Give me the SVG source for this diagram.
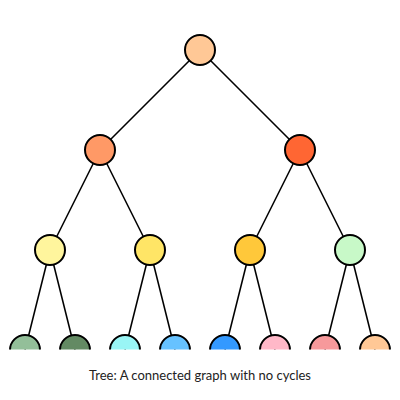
<svg xmlns="http://www.w3.org/2000/svg" width="400" height="400" viewBox="0 0 400 400">
<defs>
<style>
.e{stroke:#000;stroke-width:1.6;fill:none}
.n{stroke:#000;stroke-width:2}
.t{font-family:Lato,"Liberation Sans",sans-serif;font-size:13px;fill:#222;text-anchor:middle}
</style>
<clipPath id="clip"><rect x="0" y="0" width="400" height="349.5"/></clipPath>
</defs>
<rect width="400" height="400" fill="#fff"/>
<g clip-path="url(#clip)">
<g id="edges">
<line class="e" x1="200" y1="50" x2="100" y2="150"/>
<line class="e" x1="200" y1="50" x2="300" y2="150"/>
<line class="e" x1="100" y1="150" x2="50" y2="250"/>
<line class="e" x1="100" y1="150" x2="150" y2="250"/>
<line class="e" x1="300" y1="150" x2="250" y2="250"/>
<line class="e" x1="300" y1="150" x2="350" y2="250"/>
<line class="e" x1="50" y1="250" x2="25" y2="350"/>
<line class="e" x1="50" y1="250" x2="75" y2="350"/>
<line class="e" x1="150" y1="250" x2="125" y2="350"/>
<line class="e" x1="150" y1="250" x2="175" y2="350"/>
<line class="e" x1="250" y1="250" x2="225" y2="350"/>
<line class="e" x1="250" y1="250" x2="275" y2="350"/>
<line class="e" x1="350" y1="250" x2="325" y2="350"/>
<line class="e" x1="350" y1="250" x2="375" y2="350"/>
</g>
<g id="n0"><circle class="n" cx="200" cy="50" r="15" fill="#FFC896"/></g>
<g id="n1"><circle class="n" cx="100" cy="150" r="15" fill="#FF9966"/></g>
<g id="n2"><circle class="n" cx="300" cy="150" r="15" fill="#FF6633"/></g>
<g id="n3"><circle class="n" cx="50" cy="250" r="15" fill="#FFF59D"/></g>
<g id="n4"><circle class="n" cx="150" cy="250" r="15" fill="#FFE566"/></g>
<g id="n5"><circle class="n" cx="250" cy="250" r="15" fill="#FFC83A"/></g>
<g id="n6"><circle class="n" cx="350" cy="250" r="15" fill="#C8F9C8"/></g>
<g id="n7"><circle class="n" cx="25" cy="350" r="15" fill="#93BF99"/></g>
<g id="n8"><circle class="n" cx="75" cy="350" r="15" fill="#638A63"/></g>
<g id="n9"><circle class="n" cx="125" cy="350" r="15" fill="#99F5F5"/></g>
<g id="n10"><circle class="n" cx="175" cy="350" r="15" fill="#66C2FF"/></g>
<g id="n11"><circle class="n" cx="225" cy="350" r="15" fill="#3399FF"/></g>
<g id="n12"><circle class="n" cx="275" cy="350" r="15" fill="#FFB8C8"/></g>
<g id="n13"><circle class="n" cx="325" cy="350" r="15" fill="#F7999B"/></g>
<g id="n14"><circle class="n" cx="375" cy="350" r="15" fill="#FFC896"/></g>
</g>
<text class="t" x="200" y="380">Tree: A connected graph with no cycles</text>
</svg>
